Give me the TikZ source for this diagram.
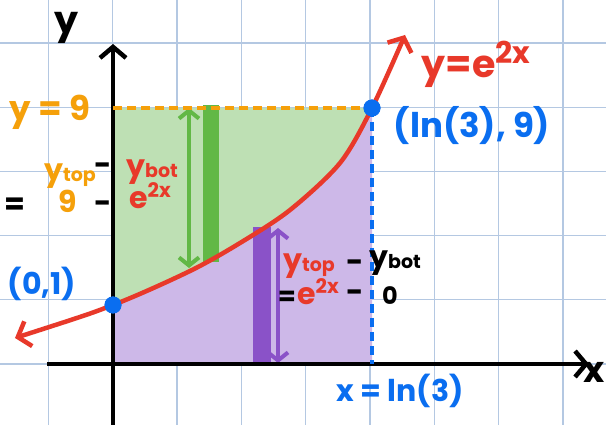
\documentclass[tikz,border=0pt]{standalone}
\usepackage{fontspec}
\setmainfont{Poppins}
\usetikzlibrary{arrows.meta, calc}
\definecolor{gridblue}{HTML}{B4C8E2}
\definecolor{curvered}{HTML}{E8392A}
\definecolor{dotblue}{HTML}{0A6EF0}
\definecolor{lineorange}{HTML}{F5A00A}
\definecolor{areagreen}{HTML}{BEE0B4}
\definecolor{areapurple}{HTML}{CDB8E8}
\definecolor{bargreen}{HTML}{62B846}
\definecolor{barpurple}{HTML}{8A52C8}
\newcommand{\hfs}[1]{\fontsize{#1}{#1}\selectfont\bfseries}
\newcommand{\ysub}[1]{y\raisebox{-1pt}{\hfs{19}#1}}
\newcommand{\esup}{e\raisebox{11pt}{\hfs{20}2x}}
\tikzset{
  gridline/.style={gridblue, line width=1.3pt},
  axis/.style={line width=4.5pt, black, -{Straight Barb[length=11pt, width=26pt]}},
  curve/.style={line width=4.5pt, curvered, {Straight Barb[length=11pt, width=26pt]}-{Straight Barb[length=11pt, width=26pt]}},
  guide/.style={line width=3.5pt, dash pattern=on 9pt off 5pt},
  span/.style={line width=4pt, {Straight Barb[length=8pt, width=20pt]}-{Straight Barb[length=8pt, width=20pt]}},
  dot/.style={circle, fill=dotblue, minimum size=17pt, inner sep=0pt},
  lab/.style={inner sep=0pt, font=\hfs{30}},
}

\begin{document}
\begin{tikzpicture}[x=1pt, y=-1pt]
  \useasboundingbox (0,0) rectangle (606,425);
  \fill[white] (0,0) rectangle (606,425);

  % Grid
  \foreach \i in {0,...,8}
    \draw[gridline] ({48.5+64.3*\i},0) -- ({48.5+64.3*\i},425);
  \foreach \j in {0,...,5}
    \draw[gridline] (0,{43+64.2*\j}) -- (606,{43+64.2*\j});

  % Areas
  \fill[areagreen] (113,108) -- (372,108)
    -- plot[smooth] coordinates {(372,108) (340,163) (290,210) (240,243) (190,271) (113,305)} -- cycle;
  \fill[areapurple] (113,364)
    -- plot[smooth] coordinates {(113,305) (190,271) (240,243) (290,210) (340,163) (372,108)}
    -- (372,364) -- cycle;

  % Strips
  \fill[bargreen] (203,105) rectangle (219,262);
  \fill[barpurple] (253,227) rectangle (271,364);
  \coordinate (gtop) at (189,108);
  \coordinate (gbot) at (189,268);
  \coordinate (ptop) at (278,228);
  \coordinate (pbot) at (278,363);
  \draw[span, bargreen] (gtop) -- (gbot);
  \draw[span, barpurple] (ptop) -- (pbot);

  % Axes
  \coordinate (ylo) at (113,425);
  \coordinate (yhi) at (113,44);
  \coordinate (xlo) at (47,364);
  \coordinate (xhi) at (589,364);
  \draw[axis] (ylo) -- (yhi);
  \draw[axis] (xlo) -- (xhi);

  % Points
  \node[dot] (p0) at (113,305) {};
  \node[dot] (p1) at (372,108) {};

  % Guides
  \draw[guide, lineorange] (113,108) -- (p1.center);
  \draw[guide, dotblue] (p1.center) -- (372,364);

  % Curve
  \draw[curve] plot[smooth] coordinates {(15,338) (113,305) (190,271) (240,243) (290,210) (340,163) (372,108) (405,35)};
  \node[dot] at (p0) {};
  \node[dot] at (p1) {};

  % Labels
  \node[lab, font=\hfs{38}] (ylab) at (67,28) {y};
  \node[lab, font=\hfs{36}] (xlab) at (594,372) {x};
  \node[lab, lineorange, font=\hfs{34}] (yline) at (50,112) {y = 9};
  \node[lab, curvered, font=\hfs{38}] (curvelab) at (476,64) {y=e\raisebox{14pt}{\hfs{30}2x}};
  \node[lab, dotblue] (p0lab) at (42,284) {(0,1)};
  \node[lab, dotblue, font=\hfs{34}] (p1lab) at (472,126) {(ln(3), 9)};
  \node[lab, dotblue] (xline) at (400,391) {x = ln(3)};

  % Green strip text
  \node[lab, lineorange] (gtop1) at (70,176) {\ysub{top}};
  \node[lab] (gminus1) at (103,169) {-};
  \node[lab, curvered] (gbot1) at (152,172) {\ysub{bot}};
  \node[lab] (geq) at (15,206) {=};
  \node[lab, lineorange] (gnine) at (68,201) {9};
  \node[lab] (gminus2) at (103,207) {-};
  \node[lab, curvered] (gexp) at (150,196) {\esup};

  % Purple strip text
  \node[lab, curvered] (ptop1) at (309,266) {\ysub{top}};
  \node[lab] (pminus1) at (355,266) {-};
  \node[lab] (pbot1) at (395,263) {\ysub{bot}};
  \node[lab, font=\hfs{26}] (peq) at (287,298) {=};
  \node[lab, curvered] (pexp) at (318,292) {\esup};
  \node[lab] (pminus2) at (355,296) {-};
  \node[lab, font=\hfs{24}] (pzero) at (390,296) {0};
\end{tikzpicture}
\end{document}
